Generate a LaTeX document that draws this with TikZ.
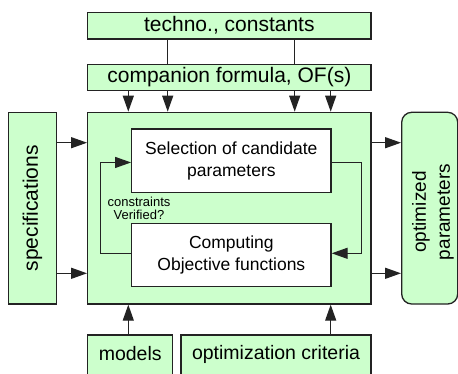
\documentclass[tikz,border=0pt]{standalone}
\usepackage{fontspec}
\setmainfont{Liberation Sans}
\usetikzlibrary{arrows.meta,calc}
\definecolor{lgreen}{RGB}{204,255,204}
\definecolor{edge}{RGB}{35,35,35}
\tikzset{
  gbox/.style={draw=edge, line width=1.3pt, fill=lgreen, inner sep=0pt, anchor=center},
  wbox/.style={draw=edge, line width=1.3pt, fill=white, inner sep=0pt, anchor=center, align=center},
  conn/.style={draw=edge, line width=1.3pt},
  arr/.style={conn, -{Triangle[length=16pt,width=11pt]}},
  bigf/.style={font=\fontsize{21}{24}\selectfont},
  midf/.style={font=\fontsize{19.5}{22}\selectfont},
  inf/.style={font=\fontsize{17.5}{21.8}\selectfont},
  optf/.style={font=\fontsize{19}{24}\selectfont},
  smallf/.style={font=\fontsize{13}{13}\selectfont}
}
\begin{document}
\begin{tikzpicture}[x=1pt,y=-1pt]
\clip (0,0) rectangle (458,373);
\fill[white] (0,0) rectangle (458,373);
% boxes
\node[gbox, minimum width=283.3pt, minimum height=26.7pt, bigf] (techno) at (229.35,25.65) {techno., constants};
\node[gbox, minimum width=283.3pt, minimum height=26.2pt, bigf] (comp) at (229.35,77.4) {companion formula, OF(s)};
\node[gbox, minimum width=283.3pt, minimum height=191.7pt] (main) at (229.35,208.15) {};
\node[gbox, minimum width=48.4pt, minimum height=191.7pt] (spec) at (32.5,208.15) {};
\node[bigf, rotate=90] (spectext) at (32.5,208.3) {specifications};
\node[gbox, rounded corners=10pt, minimum width=56pt, minimum height=191.7pt] (opt) at (429.7,208.15) {};
\node[optf, rotate=90, align=center] (opttext) at (433,212) {optimized\\parameters};
\node[wbox, minimum width=199.3pt, minimum height=63.7pt, inf] (sel) at (231.35,160.85) {Selection of candidate\\parameters};
\node[wbox, minimum width=199.3pt, minimum height=63.4pt, inf] (compu) at (231.35,255) {Computing\\Objective functions};
\node[smallf, align=center, inner sep=0pt] (verif) at (139,208) {constraints\\Verified?};
\node[gbox, minimum width=85pt, minimum height=40pt] (models) at (130.2,355) {};
\node[midf] (modelstext) at (130.2,354) {models};
\node[gbox, minimum width=190pt, minimum height=40pt] (crit) at (276,355) {};
\node[midf] (crittext) at (276,354) {optimization criteria};
% column coordinates
\coordinate (xa) at (128.3,0);
\coordinate (xb) at (167.7,0);
\coordinate (xc) at (294.7,0);
\coordinate (xd) at (330.7,0);
\coordinate (ya) at (0,142.7);
\coordinate (yb) at (0,273.3);
% connectors top
\draw[conn] (techno.south -| xb) -- (comp.north -| xb);
\draw[conn] (techno.south -| xc) -- (comp.north -| xc);
\foreach \c in {xa,xb,xc,xd}
  \draw[arr] (comp.south -| \c) -- (main.north -| \c);
% side connectors
\draw[arr] (spec.east |- ya) -- (main.west |- ya);
\draw[arr] (spec.east |- yb) -- (main.west |- yb);
\draw[arr] (main.east |- ya) -- (opt.west |- ya);
\draw[arr] (main.east |- yb) -- (opt.west |- yb);
% bottom connectors
\draw[arr] (models.north -| xa) -- (main.south -| xa);
\draw[arr] (crit.north -| xd) -- (main.south -| xd);
% feedback loop
\draw[arr] ([yshift=1.7pt]compu.west) -- ++(-30.7,0) |- ([yshift=-1.6pt]sel.west);
\draw[arr] ([yshift=-1.6pt]sel.east) -- ++(29.7,0) |- ([yshift=1.7pt]compu.east);
\end{tikzpicture}
\end{document}
